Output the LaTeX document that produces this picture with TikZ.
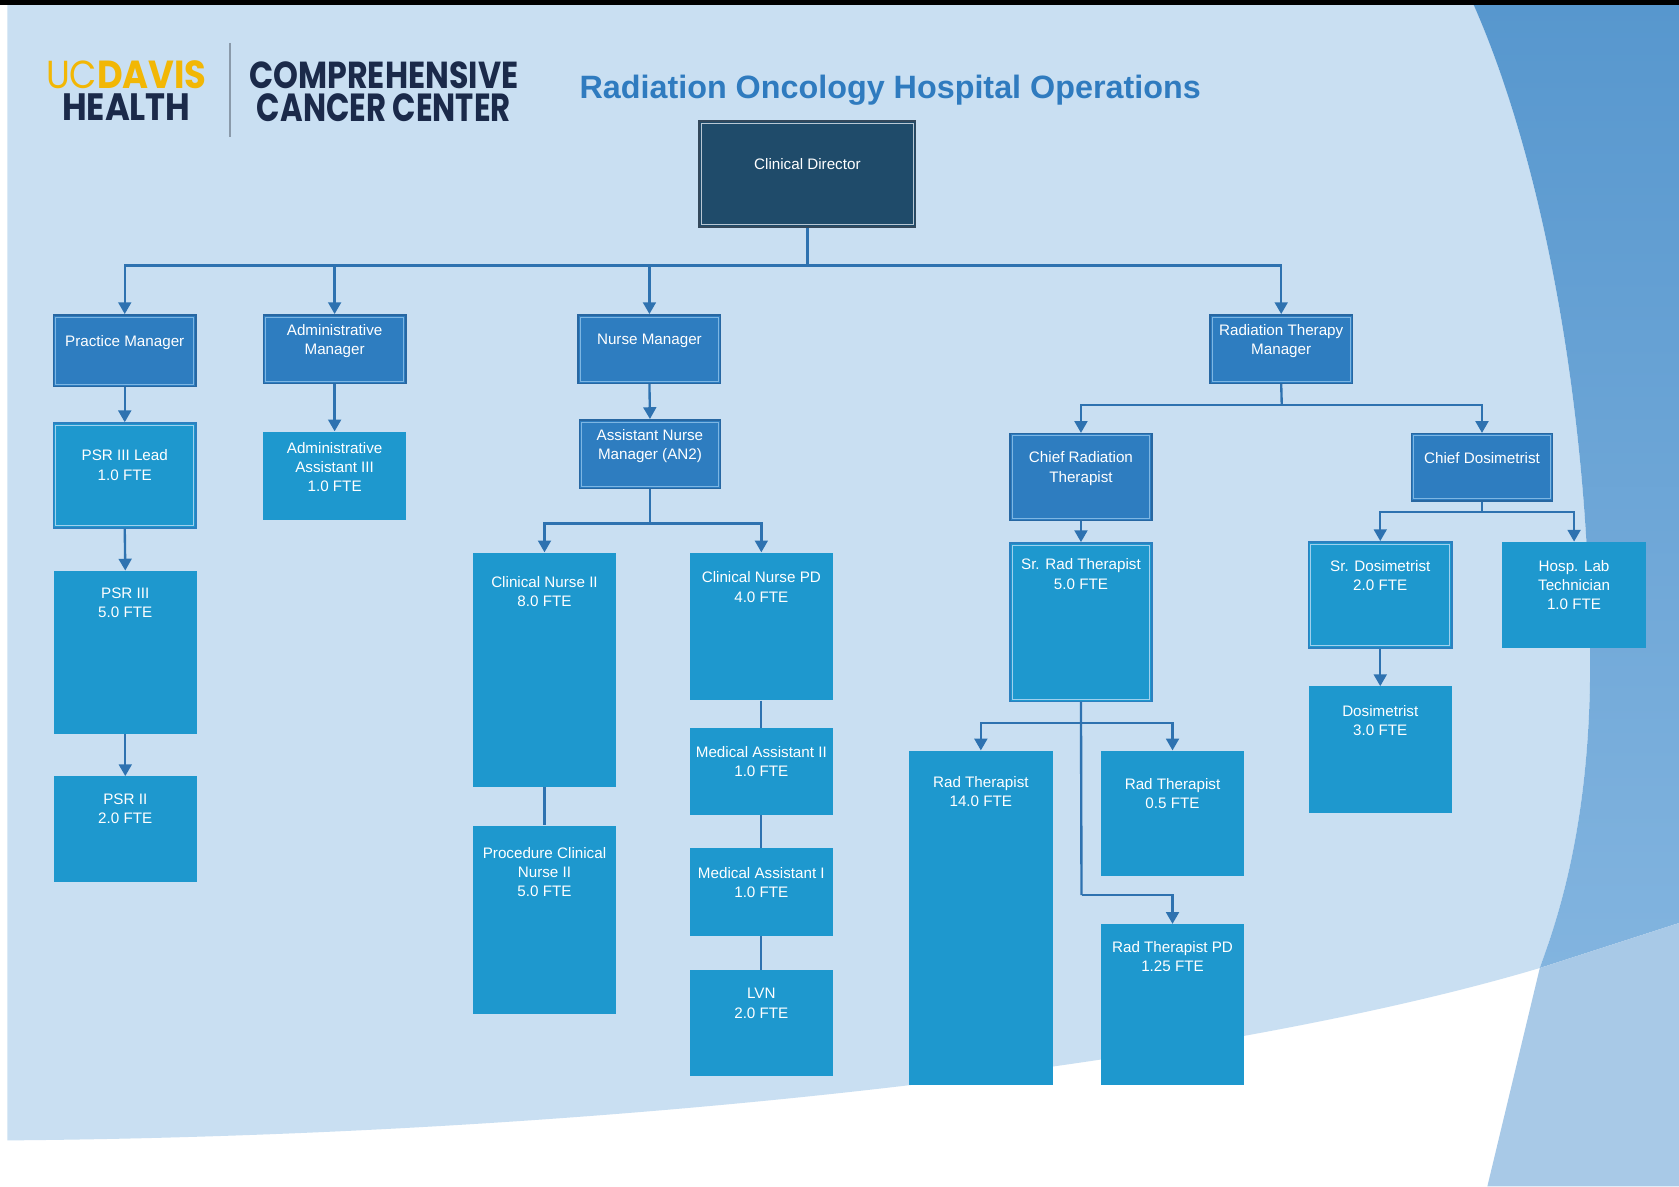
\documentclass[tikz,border=0pt]{standalone}
\usepackage{fontspec}
\setmainfont{Liberation Sans}
\newfontfamily\logofont{Poppins}
\newfontfamily\titlefont{Liberation Sans}
\usetikzlibrary{arrows.meta}
\definecolor{bglight}{HTML}{C9DFF2}
\definecolor{rightdark}{HTML}{5797CE}
\definecolor{rightmid}{HTML}{82B4DF}
\definecolor{rightlow}{HTML}{A8C9E7}
\definecolor{mgrfill}{HTML}{2E7DC0}
\definecolor{mgredge}{HTML}{2767A2}
\definecolor{mgrinner}{HTML}{7DB6E3}
\definecolor{stffill}{HTML}{1E98CE}
\definecolor{stfedge}{HTML}{2C80C0}
\definecolor{stfinner}{HTML}{9FD0EE}
\definecolor{dirfill}{HTML}{1F4B6A}
\definecolor{diredge}{HTML}{34495C}
\definecolor{dirinner}{HTML}{B9C7D3}
\definecolor{connc}{HTML}{2E72B0}
\definecolor{titlec}{HTML}{2F7BBF}
\definecolor{navyc}{HTML}{1B2A4A}
\definecolor{goldc}{HTML}{F2B705}
\definecolor{sepc}{HTML}{8A9AAA}
\tikzset{
  mgr/.style={rectangle, fill=mgrfill, draw=mgredge, line width=1.4pt, inner sep=0pt},
  stf/.style={rectangle, fill=stffill, draw=none, inner sep=0pt},
  stfb/.style={rectangle, fill=stffill, draw=stfedge, line width=1.4pt, inner sep=0pt},
  dirbox/.style={rectangle, fill=dirfill, draw=diredge, line width=1.6pt, inner sep=0pt},
  txt/.style={text=white, inner sep=0pt, align=center, font=\fontsize{14.2}{18}\selectfont},
  conn/.style={draw=connc, line width=2.2pt},
  thin/.style={draw=connc, line width=2pt},
  arr/.style={conn, -{Triangle[width=12pt,length=11pt]}},
  logo/.style={inner sep=0pt, anchor=north}
}
\newcommand\obox[8]{%
  \node[#2, minimum width={(#5-#3)*1pt}, minimum height={(#6-#4)*1pt}] (#1) at ({(#3+#5)/2},{(#4+#6)/2}) {};
  \node[txt, anchor=north] (#1t) at ({(#3+#5)/2},{#7-5.2}) {#8};
}
\newcommand\inset[2]{%
  \draw[#2, line width=0.9pt] ([shift={(2.8pt,2.8pt)}]#1.south west) rectangle ([shift={(-2.8pt,-2.8pt)}]#1.north east);
}
\begin{document}
\begin{tikzpicture}[x=1pt,y=-1pt]
\useasboundingbox (0,0) rectangle (1568,1108);
% background
\fill[white] (0,0) rectangle (1568,1108);
\fill[bglight] (7,4) -- (1376,4) .. controls (1445,160) and (1485,400) .. (1485,620)
  .. controls (1485,780) and (1450,870) .. (1438,904)
  .. controls (1150,990) and (600,1060) .. (7,1065) -- cycle;
\shade[top color=rightdark, bottom color=rightmid] (1376,4) .. controls (1445,160) and (1485,400) .. (1485,620)
  .. controls (1485,780) and (1450,870) .. (1438,904) -- (1568,862) -- (1568,4) -- cycle;
\fill[rightlow] (1438,904) -- (1389,1108) -- (1568,1108) -- (1568,862) -- cycle;
\fill[black] (0,0) rectangle (1568,4.7);
% logo
\node[logo] (ucd) at (118,56) {\vbox{\offinterlineskip
  \hbox to 150pt{\hss\resizebox{150pt}{26pt}{\color{goldc}\logofont UC\textbf{DAVIS}}\hss}
  \vskip 5pt
  \hbox to 150pt{\hss\resizebox{120pt}{25pt}{\color{navyc}\logofont\bfseries HEALTH}\hss}}};
\draw[sepc, line width=1.5pt] (215,40) -- (215,128);
\node[logo] (ccc) at (358.5,57) {\vbox{\offinterlineskip
  \hbox to 251pt{\hss\resizebox{251pt}{25pt}{\color{navyc}\logofont\bfseries COMPREHENSIVE}\hss}
  \vskip 5pt
  \hbox to 251pt{\hss\resizebox{237pt}{26pt}{\color{navyc}\logofont\bfseries CANCER CENTER}\hss}}};
\node[inner sep=0pt, anchor=west] (title) at (541,84) {\resizebox{580pt}{!}{\color{titlec}\titlefont\bfseries Radiation Oncology Hospital Operations}};
% boxes
\obox{cd}{dirbox}{653}{113}{855}{212}{153}{Clinical Director}
\inset{cd}{dirinner}
\obox{pm}{mgr}{50}{294}{183}{361}{318}{Practice Manager}
\inset{pm}{mgrinner}
\obox{am}{mgr}{246}{294}{379}{358}{308}{Administrative\\Manager}
\inset{am}{mgrinner}
\obox{nm}{mgr}{540}{294}{673}{358}{317}{Nurse Manager}
\inset{nm}{mgrinner}
\obox{rtm}{mgr}{1130}{294}{1263}{358}{308}{Radiation Therapy\\Manager}
\inset{rtm}{mgrinner}
% practice column
\obox{psrl}{stfb}{50}{395}{183}{493}{425}{PSR III Lead\\1.0 FTE}
\inset{psrl}{stfinner}
\obox{psr3}{stf}{50}{533}{184}{685}{554}{PSR III\\5.0 FTE}
\obox{psr2}{stf}{50}{725}{184}{824}{746}{PSR II\\2.0 FTE}
% admin
\obox{aa}{stf}{246}{403}{379}{486}{418}{Administrative\\Assistant III\\1.0 FTE}
% nursing
\obox{anm}{mgr}{541}{392}{673}{456}{406}{Assistant Nurse\\Manager (AN2)}
\inset{anm}{mgrinner}
\obox{cn2}{stf}{442}{516}{575}{735}{543}{Clinical Nurse II\\8.0 FTE}
\obox{pcn}{stf}{442}{771}{575}{947}{796}{Procedure Clinical\\Nurse II\\5.0 FTE}
\obox{cnpd}{stf}{644}{516}{778}{654}{539}{Clinical Nurse PD\\4.0 FTE}
\obox{ma2}{stf}{644}{680}{778}{761}{702}{Medical Assistant II\\1.0 FTE}
\obox{ma1}{stf}{644}{792}{778}{874}{815}{Medical Assistant I\\1.0 FTE}
\obox{lvn}{stf}{644}{906}{778}{1005}{928}{LVN\\2.0 FTE}
% radiation therapy
\obox{crt}{mgr}{943}{405}{1076}{486}{427}{Chief Radiation\\Therapist}
\inset{crt}{mgrinner}
\obox{srt}{stfb}{943}{507}{1076}{655}{527}{Sr. Rad Therapist\\5.0 FTE}
\inset{srt}{stfinner}
\obox{rt14}{stf}{849}{701}{983}{1013}{730}{Rad Therapist\\14.0 FTE}
\obox{rt05}{stf}{1028}{701}{1162}{818}{732}{Rad Therapist\\0.5 FTE}
\obox{rtpd}{stf}{1028}{863}{1162}{1013}{884}{Rad Therapist PD\\1.25 FTE}
% dosimetry
\obox{chd}{mgr}{1318}{405}{1450}{468}{428}{Chief Dosimetrist}
\inset{chd}{mgrinner}
\obox{srd}{stfb}{1222}{506}{1356}{605}{528}{Sr. Dosimetrist\\2.0 FTE}
\inset{srd}{stfinner}
\obox{hlt}{stf}{1403}{506}{1537}{605}{528}{Hosp. Lab\\Technician\\1.0 FTE}
\obox{dos}{stf}{1222}{641}{1356}{759}{664}{Dosimetrist\\3.0 FTE}
% connectors
\coordinate (bus1) at (754,248);
\draw[conn] (cd.south) -- (bus1);
\draw[arr] (bus1) -| (pm.north);
\draw[arr] (bus1) -| (am.north);
\draw[arr] (bus1) -| (nm.north);
\draw[arr] (bus1) -| (rtm.north);
\draw[arr] (pm.south) -- (psrl.north);
\draw[arr] (psrl.south) -- (psr3.north);
\draw[arr] (psr3.south) -- (psr2.north);
\draw[arr] (am.south) -- (aa.north);
\draw[arr] (nm.south) -- (anm.north);
\coordinate (bus2) at (607,489);
\draw[conn] (anm.south) -- (bus2);
\draw[arr] (bus2) -| (cn2.north);
\draw[arr] (bus2) -| (cnpd.north);
\draw[thin] (cn2.south) -- (pcn.north);
\draw[thin] (cnpd.south) -- (ma2.north);
\draw[thin] (ma2.south) -- (ma1.north);
\draw[thin] (ma1.south) -- (lvn.north);
\coordinate (bus3) at (1197,378);
\draw[conn] (rtm.south) -- (bus3);
\draw[arr] (bus3) -| (crt.north);
\draw[arr] (bus3) -| (chd.north);
\draw[arr] (crt.south) -- (srt.north);
\coordinate (bus4) at (1010,675);
\coordinate (bend4) at (1010,836);
\draw[conn] (srt.south) -- (bend4);
\draw[arr] (bus4) -| (rt14.north);
\draw[arr] (bus4) -| (rt05.north);
\draw[arr] (bend4) -| (rtpd.north);
\coordinate (bus5) at (1384,478);
\draw[conn] (chd.south) -- (bus5);
\draw[arr] (bus5) -| (srd.north);
\draw[arr] (bus5) -| (hlt.north);
\draw[arr] (srd.south) -- (dos.north);
\end{tikzpicture}
\end{document}
